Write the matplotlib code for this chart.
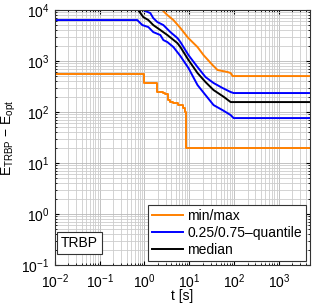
import numpy as np
import matplotlib
matplotlib.use("Agg")
import matplotlib.pyplot as plt
import matplotlib.ticker as tkr

plt.rcParams['font.family'] = ['Liberation Sans', 'DejaVu Sans']
plt.rcParams['mathtext.fontset'] = 'custom'
plt.rcParams['mathtext.rm'] = 'Liberation Sans'
plt.rcParams['mathtext.it'] = 'Liberation Sans:italic'
plt.rcParams['mathtext.default'] = 'regular'

# min curve (step)
t_min = [0.01, 0.99, 1.94, 2.64, 2.92, 3.42, 3.79, 4.43, 5.73, 7.42, 8.0, 8.6, 5000]
v_min = [556, 371, 247, 236, 225, 172, 157, 150, 137, 120, 100, 19.7, 19.7]

# max curve
t_max = [2.26, 2.51, 3.24, 4.43, 6.35, 9.12, 10.6, 15.3, 20.8, 33.1, 42.9, 71.9, 83.9, 93.1, 5000]
v_max = [12500, 10000, 7980, 6370, 4440, 2960, 2580, 1880, 1310, 836, 667, 609, 582, 508, 508]

# 0.75 quantile
t_q75 = [0.847, 0.94, 1.35, 1.57, 1.94, 2.64, 3.79, 5.43, 6.35, 9.59, 15.3, 23.1, 34.9, 55.5, 83.9, 98, 5000]
v_q75 = [12500, 10000, 8730, 6960, 5820, 5080, 3700, 2830, 2360, 1310, 763, 485, 371, 296, 247, 236, 236]

# median
t_med = [0.622, 0.726, 0.94, 1.22, 1.57, 2.26, 3.24, 5.43, 6.35, 9.59, 15.3, 23.1, 34.9, 59.7, 83.9, 5000]
v_med = [13700, 10000, 7290, 6370, 5080, 4060, 3240, 2250, 1880, 1050, 582, 387, 270, 197, 157, 157]

# 0.25 quantile
t_q25 = [0.01, 0.69, 0.894, 1.22, 1.57, 2.26, 2.64, 3.24, 4.43, 6.35, 9.59, 15.3, 23.1, 34.9, 55.5, 83.9, 98, 5000]
v_q25 = [6370, 6370, 5080, 4640, 3700, 3240, 2580, 2360, 1880, 1250, 729, 338, 215, 137, 109, 87.3, 76.2, 76.2]

orange = '#ff8000'
blue = '#0000ff'

fig = plt.figure(figsize=(3.12, 3.05), dpi=100)
ax = fig.add_axes([0.176, 0.131, 0.818, 0.836])

ax.plot(t_min, v_min, color=orange, lw=1.4, drawstyle='steps-post', label='min/max')
ax.plot(t_max, v_max, color=orange, lw=1.4)
ax.plot(t_q75, v_q75, color=blue, lw=1.4, label='0.25/0.75\u2013quantile')
ax.plot(t_q25, v_q25, color=blue, lw=1.4)
ax.plot(t_med, v_med, color='k', lw=1.4, label='median')

ax.set_xscale('log')
ax.set_yscale('log')
ax.set_xlim(1e-2, 5e3)
ax.set_ylim(1e-1, 1e4)

ax.xaxis.set_major_locator(tkr.LogLocator(base=10, numticks=20))
ax.yaxis.set_major_locator(tkr.LogLocator(base=10, numticks=20))
ax.xaxis.set_minor_locator(tkr.LogLocator(base=10, subs=np.arange(2, 10), numticks=20))
ax.yaxis.set_minor_locator(tkr.LogLocator(base=10, subs=np.arange(2, 10), numticks=20))
ax.xaxis.set_minor_formatter(tkr.NullFormatter())
ax.yaxis.set_minor_formatter(tkr.NullFormatter())

ax.grid(which='major', color='#b8b8b8', lw=0.6)
ax.grid(which='minor', color='#cccccc', lw=0.6)
ax.set_axisbelow(True)

ax.tick_params(which='both', direction='in', top=True, right=True, labelsize=10)
ax.tick_params(which='major', length=3)
ax.tick_params(which='minor', length=1.5)
ax.tick_params(axis='x', which='major', pad=5)
ax.tick_params(axis='y', which='major', pad=4)
for s in ax.spines.values():
    s.set_color('#333333')
    s.set_linewidth(0.8)

ax.set_xlabel('t [s]', fontsize=10)
ax.xaxis.set_label_coords(0.5, -0.095)
ax.set_ylabel(r'E$_{TRBP}$ $-$ E$_{opt}$', fontsize=10, labelpad=2)

leg = ax.legend(loc='lower right', fontsize=10, fancybox=False, framealpha=1,
                edgecolor='#333333', borderpad=0.3, labelspacing=0.2,
                handlelength=2.2, handletextpad=0.3, borderaxespad=0.3)
leg.get_frame().set_linewidth(0.8)

ax.text(0.023, 0.06, 'TRBP', transform=ax.transAxes, fontsize=10,
        ha='left', va='bottom',
        bbox=dict(boxstyle='square,pad=0.3', fc='white', ec='#333333', lw=0.8))

fig.savefig('out.png', dpi=100)
